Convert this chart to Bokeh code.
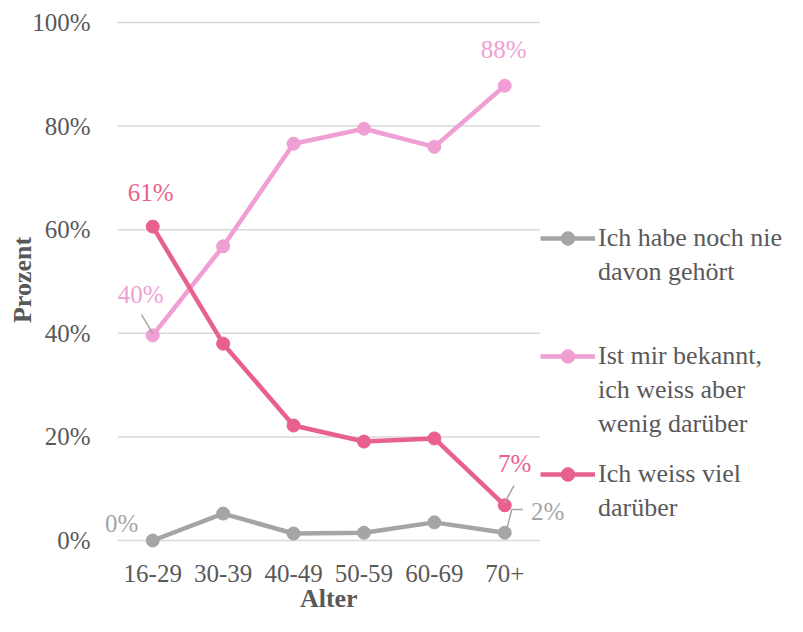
from bokeh.plotting import figure
from bokeh.models import (ColumnDataSource, Range1d, FixedTicker, LinearAxis,
                          PrintfTickFormatter, LabelSet, Legend, LegendItem)
from bokeh.embed import file_html
from bokeh.resources import INLINE

# ---------------- data ----------------
categories = ["16-29", "30-39", "40-49", "50-59", "60-69", "70+"]
nie_gehoert = [0.0, 5.2, 1.35, 1.5, 3.5, 1.5]
bekannt_wenig = [39.6, 56.8, 76.6, 79.5, 76.0, 87.8]
weiss_viel = [60.6, 38.0, 22.2, 19.1, 19.7, 6.8]
y_ticks = [0, 20, 40, 60, 80, 100]
series_labels = [["Ich habe noch nie", "davon gehört"],
                 ["Ist mir bekannt,", "ich weiss aber", "wenig darüber"],
                 ["Ich weiss viel", "darüber"]]
x_title = "Alter"
y_title = "Prozent"

GREY = "#A5A5A5"
LPINK = "#EF9FD4"
DPINK = "#E8618C"
TXT = "#595959"
FONT = "Liberation Serif"

xpos = list(range(len(categories)))
n = len(categories)

p = figure(width=787, height=616, output_backend="svg", toolbar_location=None,
           x_range=Range1d(-0.742, 9.016), y_range=Range1d(-1.737, 102.32),
           min_border_left=100, min_border_right=0, min_border_top=10,
           min_border_bottom=67)
p.outline_line_color = None
p.background_fill_color = "white"
p.border_fill_color = "white"
p.xgrid.visible = False
p.ygrid.visible = False
p.xaxis.ticker = FixedTicker(ticks=xpos)
p.xaxis.major_label_overrides = {i: c for i, c in zip(xpos, categories)}
p.yaxis.ticker = FixedTicker(ticks=y_ticks)
p.yaxis.formatter = PrintfTickFormatter(format="%d%%")


def style_axis(ax, size, bold=False):
    ax.axis_line_color = None
    ax.major_tick_line_color = None
    ax.minor_tick_line_color = None
    ax.major_tick_out = 0
    ax.major_tick_in = 0
    ax.major_label_text_font = FONT
    ax.major_label_text_font_size = size
    ax.major_label_text_color = TXT
    if bold:
        ax.major_label_text_font_style = "bold"


style_axis(p.xaxis[0], "25px")
style_axis(p.yaxis[0], "25px")
p.xaxis.major_label_standoff = 15
p.yaxis.major_label_standoff = 10
p.yaxis.axis_label = y_title
p.yaxis.axis_label_text_font = FONT
p.yaxis.axis_label_text_font_size = "26px"
p.yaxis.axis_label_text_font_style = "bold"
p.yaxis.axis_label_text_color = TXT
p.yaxis.axis_label_standoff = -8

# x axis title, centred under the category band
x_title_axis = LinearAxis(ticker=FixedTicker(ticks=[(n - 1) / 2]),
                          major_label_overrides={(n - 1) / 2: x_title})
style_axis(x_title_axis, "26px", bold=True)
x_title_axis.major_label_standoff = -1
p.add_layout(x_title_axis, "below")

# horizontal grid lines across the category band only
p.segment(x0=[-0.5] * len(y_ticks), x1=[n - 0.5] * len(y_ticks), y0=y_ticks, y1=y_ticks,
          line_color="#D9D9D9", line_width=1.5)

series = [(nie_gehoert, GREY), (bekannt_wenig, LPINK), (weiss_viel, DPINK)]
main_renderers = []
for vals, col in series:
    src = ColumnDataSource(dict(x=xpos, y=vals))
    lr = p.line("x", "y", source=src, line_color=col, line_width=4.5)
    sr = p.scatter("x", "y", source=src, size=13, fill_color=col, line_color=col)
    main_renderers.append([lr, sr])

# leader lines (relative to the labelled points)
lead_col = GREY
v = bekannt_wenig[0]
p.line(x=[xpos[0] - 0.16, xpos[0]], y=[v + 4.0, v + 0.4], line_color=lead_col, line_width=1.5)
v = weiss_viel[-1]
p.line(x=[xpos[-1] + 0.13, xpos[-1]], y=[v + 3.8, v + 0.5], line_color=lead_col, line_width=1.5)
v = nie_gehoert[-1]
p.line(x=[xpos[-1] + 0.256, xpos[-1] + 0.1, xpos[-1] + 0.03], y=[v + 4.5, v + 4.5, v + 0.8],
       line_color=lead_col, line_width=1.5)

# data labels
lab_src = ColumnDataSource(dict(
    x=[xpos[0], xpos[0], xpos[0], xpos[-1], xpos[-1], xpos[-1]],
    y=[weiss_viel[0], bekannt_wenig[0], nie_gehoert[0], bekannt_wenig[-1], weiss_viel[-1], nie_gehoert[-1]],
    text=[f"{round(weiss_viel[0])}%", f"{round(bekannt_wenig[0])}%", f"{round(nie_gehoert[0])}%",
          f"{round(bekannt_wenig[-1])}%", f"{round(weiss_viel[-1])}%", f"{round(nie_gehoert[-1])}%"],
    dx=[-2, -12, -31, -1, 10, 43],
    dy=[34, 41, 17, 36, 42, 21],
    color=[DPINK, LPINK, GREY, LPINK, DPINK, GREY],
))
p.add_layout(LabelSet(x="x", y="y", text="text", x_offset="dx", y_offset="dy",
                      text_color="color", text_align="center", text_baseline="middle",
                      text_font=FONT, text_font_size="25px", source=lab_src))

# legend: one block per series, first line carries the glyph
blank = p.line(x=[], y=[], line_alpha=0)
ROW = 34
tops = [221, 339, 457]          # top of each legend block (screen px)
frame_bottom = 549
for rends, lines, top in zip(main_renderers, series_labels, tops):
    its = [LegendItem(label=lines[0], renderers=rends)]
    its += [LegendItem(label=t, renderers=[blank]) for t in lines[1:]]
    h = ROW * len(lines)
    leg = Legend(items=its, location=(440, frame_bottom - top - h), margin=0, padding=0,
                 glyph_width=55, glyph_height=ROW, label_height=ROW, label_standoff=3,
                 spacing=0, border_line_alpha=0, background_fill_alpha=0,
                 label_text_font=FONT, label_text_font_size="26px",
                 label_text_color=TXT)
    p.add_layout(leg, "center")

open("out.html", "w").write(file_html(p, INLINE))
